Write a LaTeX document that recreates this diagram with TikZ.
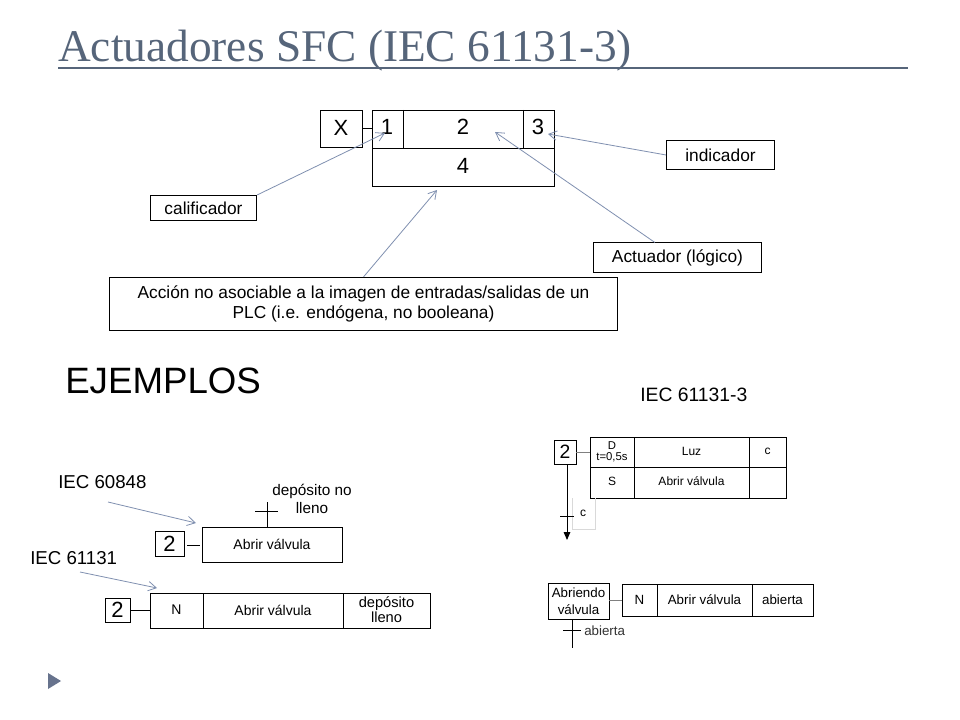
\documentclass[tikz,border=0pt]{standalone}
\usepackage{fontspec}
\setmainfont{Liberation Sans}
\newfontfamily\titlefont{Liberation Serif}
\usetikzlibrary{arrows.meta}
\definecolor{titc}{HTML}{56657A}
\definecolor{arc}{HTML}{8090B0}
\tikzset{
  lbl/.style={draw,line width=0.6pt,font=\fontsize{13}{15.5}\selectfont,inner sep=3pt},
  pt/.style={arc,line width=0.6pt,-{Straight Barb[length=6pt,width=7pt]}},
}
\begin{document}
\begin{tikzpicture}[x=0.75pt,y=-0.75pt]
\useasboundingbox[fill=white] (0,0) rectangle (960,720);
% title
\node[anchor=base west,text=titc,font=\titlefont\fontsize{34}{36}\selectfont,inner sep=0] (title) at (58,62) {Actuadores SFC (IEC 61131-3)};
\draw[titc,line width=1pt] (58,68) -- (908,68);
% main block
\draw[line width=0.7pt] (320,110) rectangle (362,147);
\node[font=\fontsize{16.5}{16}\selectfont] (bx) at (341,128) {X};
\draw[line width=0.7pt] (372,110) rectangle (554,186) (372,148) -- (554,148) (403,110) -- (403,148) (523,110) -- (523,148);
\draw[line width=0.7pt] (362,128) -- (372,128);
\node[font=\fontsize{16.5}{16}\selectfont] (c1) at (387,127) {1};
\node[font=\fontsize{16.5}{16}\selectfont] (c2) at (463,127) {2};
\node[font=\fontsize{16.5}{16}\selectfont] (c3) at (538,127) {3};
\node[font=\fontsize{16.5}{16}\selectfont] (c4) at (463,166) {4};
\coordinate (t1) at (385,133);
\coordinate (t2) at (495,132);
\coordinate (t3) at (548,134);
\coordinate (t4) at (437,190);
\node[lbl,minimum width=80pt,minimum height=19pt] (cal) at (203.5,208) {calificador};
\node[lbl,minimum width=81pt,minimum height=22pt] (ind) at (720.5,155) {indicador};
\node[lbl,minimum width=126pt,minimum height=22pt] (act) at (677.5,257.5) {Actuador (lógico)};
\node[lbl,minimum width=381pt,minimum height=40pt,align=center] (acc) at (363.5,304) {Acción no asociable a la imagen de entradas/salidas de un\\PLC (i.e. endógena, no booleana)};
\draw[pt] (cal.north east) -- (t1);
\draw[pt] (ind.west) -- (t3);
\draw[pt] (act.north) ++(-17pt,0) -- (t2);
\draw[pt] (acc.north) -- (t4);
% EJEMPLOS
\node[anchor=base west,font=\fontsize{27.5}{30}\selectfont,inner sep=0] (ej) at (65,393) {EJEMPLOS};
\node[anchor=base west,font=\fontsize{14.5}{16}\selectfont,inner sep=0] (iec3) at (640,401) {IEC 61131-3};
% IEC 60848
\node[anchor=base west,font=\fontsize{14}{16}\selectfont,inner sep=0] (i608) at (58,488) {IEC 60848};
\draw[pt] (108,502) -- (196,523);
\draw[line width=0.6pt] (155,531) rectangle (184,556);
\node[font=\fontsize{16.5}{16}\selectfont] (s2a) at (169.5,544) {2};
\draw[line width=0.6pt] (187,545) -- (200,545);
\draw[line width=0.6pt] (202,527) rectangle (342,562);
\node[font=\fontsize{10.5}{12}\selectfont] (ava) at (272,544) {Abrir válvula};
\draw[line width=0.6pt] (267,527) -- (267,502) (255,511) -- (278,511);
\node[font=\fontsize{11.5}{14}\selectfont,align=center] (dnl) at (312,499) {depósito no\\lleno};
% IEC 61131
\node[anchor=base west,font=\fontsize{14}{16}\selectfont,inner sep=0] (i611) at (30,564) {IEC 61131};
\draw[pt] (80,572) -- (157,588);
\draw[line width=0.6pt] (105,598) rectangle (130,622);
\node[font=\fontsize{16.5}{16}\selectfont] (s2b) at (117.5,610) {2};
\draw[line width=0.6pt] (130,610) -- (150,610);
\draw[line width=0.6pt] (150,593) rectangle (430,628) (203,593) -- (203,628) (343,593) -- (343,628);
\node[font=\fontsize{10.5}{12}\selectfont] (nb) at (176.5,610) {N};
\node[font=\fontsize{10.5}{12}\selectfont] (avb) at (273,610) {Abrir válvula};
\node[font=\fontsize{11}{11.5}\selectfont,align=center] (dl) at (386.5,610) {depósito\\lleno};
% IEC 61131-3 example 1
\draw[line width=0.6pt] (554,440) rectangle (576,464);
\node[font=\fontsize{14.5}{14}\selectfont] (s2c) at (565,452) {2};
\draw[gray,line width=0.6pt] (576,452) -- (590,452);
\draw[line width=0.6pt] (590,437) rectangle (786,498) (590,467) -- (786,467) (634,437) -- (634,498) (749,437) -- (749,498);
\node[font=\fontsize{8.5}{8.5}\selectfont,align=center] (dt) at (612,452) {D\\t=0,5s};
\node[font=\fontsize{9}{10}\selectfont] (luz) at (691.5,451) {Luz};
\node[font=\fontsize{9}{10}\selectfont] (cc) at (767.5,451) {c};
\node[font=\fontsize{9}{10}\selectfont] (ss) at (612,481) {S};
\node[font=\fontsize{9}{10}\selectfont] (avc) at (691.5,481) {Abrir válvula};
\draw[black!15,line width=0.5pt] (572,498) -- (572,529) -- (595,529) -- (595,498);
\draw[line width=0.7pt,-{Triangle[length=6pt,width=5pt]}] (567,464) -- (567,540);
\draw[line width=0.7pt] (560,516) -- (574,516);
\node[font=\fontsize{9}{10}\selectfont] (tc) at (583,513) {c};
% example 2
\draw[line width=0.6pt] (548,583) rectangle (609,619);
\node[font=\fontsize{10}{13}\selectfont,align=center] (abr) at (578.5,601) {Abriendo\\válvula};
\draw[gray,line width=0.6pt] (609,600) -- (622,600);
\draw[line width=0.6pt] (622,584) rectangle (813,616) (657,584) -- (657,616) (752,584) -- (752,616);
\node[font=\fontsize{10}{11}\selectfont] (nd) at (639.5,600) {N};
\node[font=\fontsize{10}{11}\selectfont] (avd) at (704.5,600) {Abrir válvula};
\node[font=\fontsize{10}{11}\selectfont] (abi) at (782.5,600) {abierta};
\draw[line width=0.6pt] (572,619) -- (572,648) (563,630) -- (581,630);
\node[anchor=west,font=\fontsize{10}{11}\selectfont,text=black!80,inner sep=0] (abt) at (584,631) {abierta};
% bullet triangle
\fill[arc!80!black] (48,673) -- (61,681) -- (48,689) -- cycle;
\end{tikzpicture}
\end{document}
